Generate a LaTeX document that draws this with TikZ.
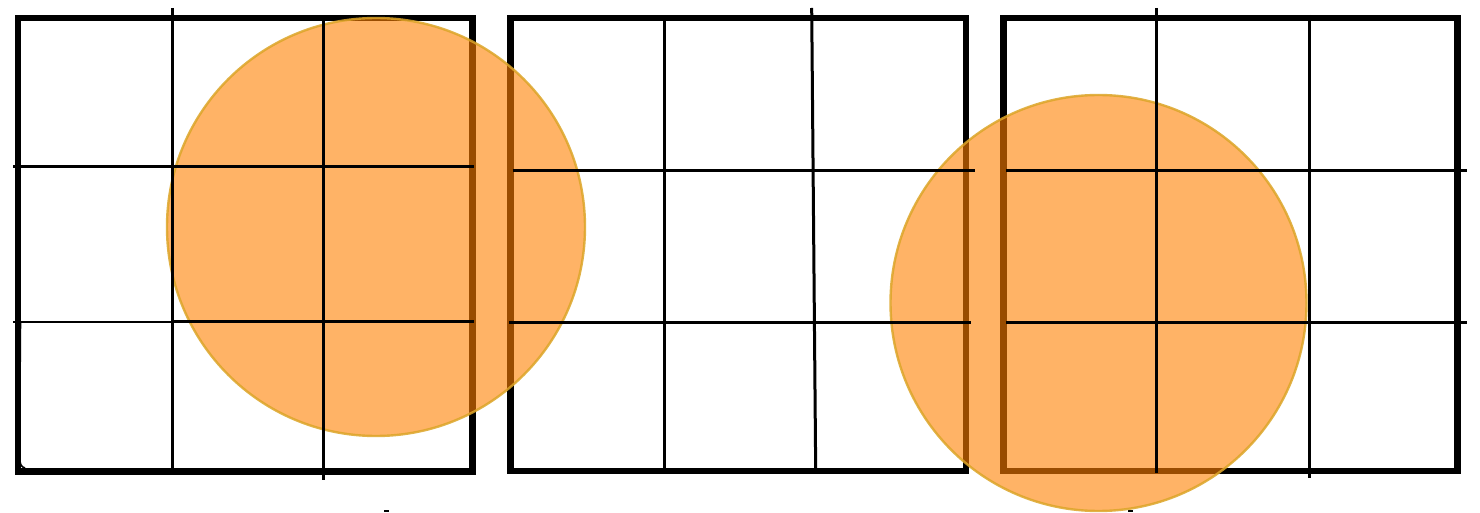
\documentclass[tikz,border=0pt]{standalone}
\begin{document}
\begin{tikzpicture}[x=0.5pt,y=-0.5pt,
  frame/.style={line width=3.2pt, line join=miter},
  gridline/.style={line width=1.5pt},
  thingrid/.style={line width=0.8pt},
  blob/.style={fill={rgb,255:red,255;green,128;blue,0}, fill opacity=0.6,
               draw={rgb,255:red,220;green,165;blue,40}, draw opacity=0.85, line width=1.2pt}]
\useasboundingbox (0,0) rectangle (1480,513);
% frames
\draw[frame] (18,18) rectangle (472.5,471.5);
\draw[frame] (510.5,18) rectangle (966,471);
\draw[frame] (1003.5,18) rectangle (1457.5,471);
\draw[line width=0.8pt] (20.5,322) -- (19.5,455) .. controls (19.5,464) and (21,467) .. (25,468);
% tiny marks
\draw[line width=1pt] (384,511.5) -- (389,511.5);
\draw[line width=1pt] (1128,511.5) -- (1133,511.5);
% circles
\draw[blob] (376,227) circle (209);
\draw[blob] (1098.5,303) circle (208);
% square 1 grid
\draw[gridline] (172,8) -- (172,471.5);
\draw[gridline] (323,18) -- (323,480);
\draw[gridline] (13,167) -- (474,167);
\draw[thingrid] (13,322) -- (172,322);
\draw[gridline] (172,322) -- (474,322);
% square 2 grid
\draw[gridline] (664.5,18) -- (664.5,471);
\draw[gridline] (811.7,8) -- (815.7,471);
\draw[gridline] (512.7,171) -- (975,171);
\draw[gridline] (509,322.3) -- (971,322.3);
% square 3 grid
\draw[gridline] (1156.7,8) -- (1156.7,473);
\draw[gridline] (1309,15) -- (1309,478);
\draw[gridline] (1006,171) -- (1467.3,171);
\draw[gridline] (1006,322.3) -- (1467.3,322.3);
\end{tikzpicture}
\end{document}
